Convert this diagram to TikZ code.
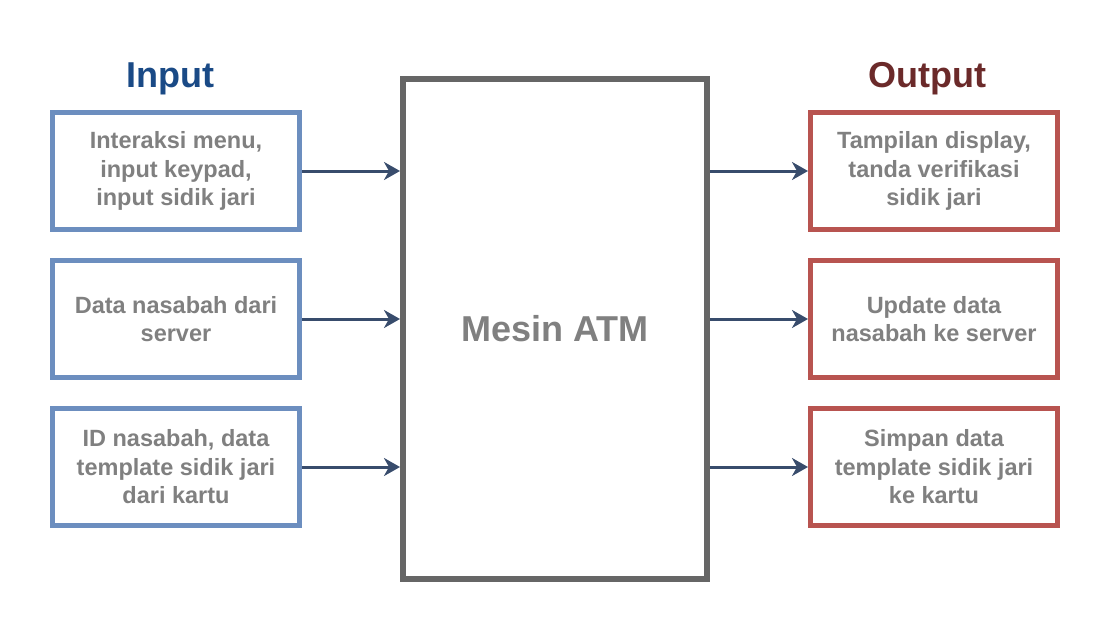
\documentclass[tikz,border=0pt]{standalone}
\usepackage{fontspec}
\setmainfont{Liberation Sans}
\usetikzlibrary{positioning, arrows.meta}

\definecolor{inblue}{HTML}{6C8EBF}
\definecolor{outred}{HTML}{B85450}
\definecolor{atmgray}{HTML}{666666}
\definecolor{txtgray}{HTML}{808080}
\definecolor{intitle}{HTML}{1A4A86}
\definecolor{outtitle}{HTML}{6B2A2A}
\definecolor{flow}{HTML}{384C6C}

\begin{document}
\begin{tikzpicture}[
         x=1pt, y=1pt,
         node distance=26pt,
         block/.style={rectangle, draw, line width=5pt, fill=white, minimum width=247pt, minimum height=117pt,
            align=center, text=txtgray, font=\fontsize{23.5}{28.5}\selectfont\bfseries},
         inbox/.style={block, draw=inblue},
         outbox/.style={block, draw=outred},
         machine/.style={rectangle, draw=atmgray, line width=6pt, minimum width=304pt, minimum height=500pt,
            text=txtgray, font=\fontsize{36}{40}\selectfont\bfseries},
         heading/.style={font=\fontsize{36}{40}\selectfont\bfseries},
         flowarrow/.style={-{Stealth[length=16pt, width=18pt, inset=5pt]}, draw=flow, line width=3pt}
      ]
         \useasboundingbox (0,0) rectangle (1110,-634);

         % Central machine
         \node[machine] (atm) at (555,-329) {Mesin ATM};

         % Input blocks
         \node[inbox] (in1) at (176,-171) {Interaksi menu,\\input keypad,\\input sidik jari};
         \node[inbox] (in2) [below=of in1] {Data nasabah dari\\server};
         \node[inbox] (in3) [below=of in2] {ID nasabah, data\\template sidik jari\\dari kartu};

         % Output blocks
         \node[outbox] (out1) at (934,-171) {Tampilan display,\\tanda verifikasi\\sidik jari};
         \node[outbox] (out2) [below=of out1] {Update data\\nasabah ke server};
         \node[outbox] (out3) [below=of out2] {Simpan data\\template sidik jari\\ke kartu};

         % Headings
         \node[heading, text=intitle, anchor=base] (inhead) at (170,-87) {Input};
         \node[heading, text=outtitle, anchor=base] (outhead) at (927,-87) {Output};

         % Arrows into and out of the machine
         \foreach \i in {1,2,3} {
            \draw[flowarrow] (in\i.east) -- (atm.west |- in\i.east);
            \draw[flowarrow] (atm.east |- out\i.west) -- (out\i.west);
         }

      \end{tikzpicture}
\end{document}
